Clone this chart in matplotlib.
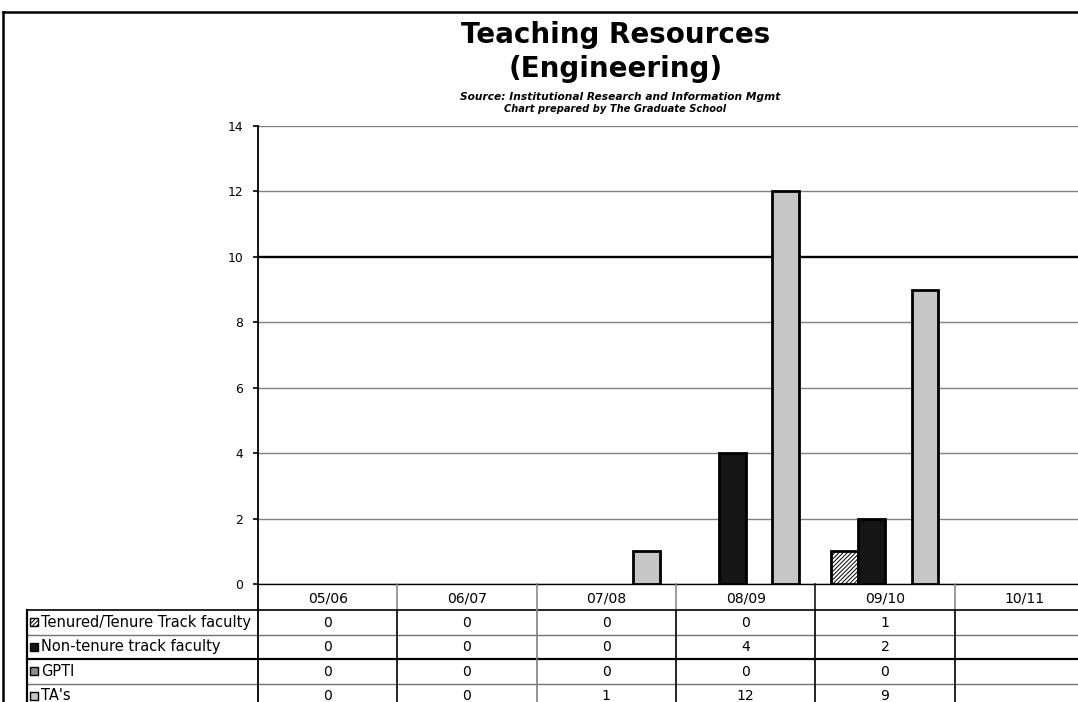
import numpy as np
import matplotlib
matplotlib.use("Agg")
import matplotlib.pyplot as plt
from matplotlib.patches import Rectangle
from matplotlib.lines import Line2D

plt.rcParams['font.family'] = ['DejaVu Sans']
plt.rcParams['hatch.linewidth'] = 0.7

# ---- data ----
years = ["05/06", "06/07", "07/08", "08/09", "09/10", "10/11"]
series_names = ["Tenured/Tenure Track faculty", "Non-tenure track faculty", "GPTI", "TA's"]
tenured = [0, 0, 0, 0, 1, None]
non_tenure = [0, 0, 0, 4, 2, None]
gpti = [0, 0, 0, 0, 0, None]
tas = [0, 0, 1, 12, 9, None]
y_ticks = [0, 2, 4, 6, 8, 10, 12, 14]

series_values = [tenured, non_tenure, gpti, tas]
styles = [
    dict(facecolor="white", hatch="////////"),
    dict(facecolor="#151515", hatch=None),
    dict(facecolor="#8c8c8c", hatch=None),
    dict(facecolor="#c6c6c6", hatch=None),
]

W, H = 1078, 702
fig = plt.figure(figsize=(W / 100, H / 100), dpi=100)

# plot area in pixel terms
left_px, top_px, bottom_px = 258, 126, 584
cat_px = 139.33
n_cat = len(years)
width_px = cat_px * n_cat

def fig_box(x0, y0, x1, y1):
    return [x0 / W, 1 - y1 / H, (x1 - x0) / W, (y1 - y0) / H]

ax = fig.add_axes(fig_box(left_px, top_px, left_px + width_px, bottom_px))
ax.set_xlim(-0.5, n_cat - 0.5)
ax.set_ylim(0, 14)
ax.set_yticks(y_ticks)
ax.set_yticklabels([str(t) for t in y_ticks], fontsize=8.9)
ax.set_xticks([])
ax.tick_params(axis='y', direction='out', length=3.6, width=1.2, pad=7, color='black')
for side in ["top", "right"]:
    ax.spines[side].set_visible(False)
ax.spines["left"].set_linewidth(1.3)
ax.spines["bottom"].set_linewidth(1.0)
ax.set_axisbelow(True)
ax.yaxis.grid(True, color="#808080", linewidth=1.0)
for t, gl in zip(ax.get_yticks(), ax.get_ygridlines()):
    if t == 10:
        gl.set_color("black")
        gl.set_linewidth(1.7)

bar_w = 0.192
x = np.arange(n_cat)
for k, (vals, st) in enumerate(zip(series_values, styles)):
    offs = (k - 1.5) * bar_w
    for i, v in enumerate(vals):
        if v is None or v == 0:
            continue
        ax.bar(x[i] + offs, v, width=bar_w, facecolor=st["facecolor"],
               hatch=st["hatch"], edgecolor="black", linewidth=2.0, zorder=3)

# ---- data table below the plot ----
row_edges = [0, 26, 50.5, 75, 99.5, 124]
tax = fig.add_axes(fig_box(left_px, bottom_px, left_px + width_px, bottom_px + row_edges[-1]))
tax.set_xlim(-0.5, n_cat - 0.5)
tax.set_ylim(row_edges[-1], 0)
tax.axis("off")

lab_left = -0.5 - (left_px - 27) / cat_px
text_left = -0.5 - (left_px - 41) / cat_px
icon_left = -0.5 - (left_px - 30) / cat_px
icon_w = 8 / cat_px
right_end = n_cat - 0.5

def hline(y, x0, x1, color, lw):
    tax.add_line(Line2D([x0, x1], [y, y], color=color, linewidth=lw, clip_on=False))

def vline(xv, y0, y1, color, lw):
    tax.add_line(Line2D([xv, xv], [y0, y1], color=color, linewidth=lw, clip_on=False))

# horizontal rules
hline(row_edges[1], lab_left, right_end, "black", 1.2)
hline(row_edges[2], lab_left, right_end, "#707070", 1.0)
hline(row_edges[3], lab_left, right_end, "black", 1.6)
hline(row_edges[4], lab_left, right_end, "#707070", 1.0)

# vertical rules
vline(lab_left, row_edges[1], row_edges[-1], "black", 1.6)
vline(-0.5, row_edges[0], row_edges[-1], "black", 1.3)
for j in range(1, n_cat):
    xb = j - 0.5
    head_col = "black" if j == 4 else "#808080"
    body_col = "#808080" if j == 2 else "black"
    vline(xb, row_edges[0], row_edges[1], head_col, 1.1)
    vline(xb, row_edges[1], row_edges[-1], body_col, 1.2)

# header labels
for i, yr in enumerate(years):
    tax.text(i, (row_edges[0] + row_edges[1]) / 2 + 1, yr, ha="center", va="center",
             fontsize=10.1)

# row labels, icons and values
for r, (name, vals, st) in enumerate(zip(series_names, series_values, styles)):
    y0, y1 = row_edges[r + 1], row_edges[r + 2]
    yc = (y0 + y1) / 2
    tax.add_patch(Rectangle((icon_left, yc - 4), icon_w, 8, facecolor=st["facecolor"],
                            hatch=st["hatch"], edgecolor="black", linewidth=1.0,
                            clip_on=False))
    tax.text(text_left, yc, name, ha="left", va="center", fontsize=10.5, clip_on=False)
    for i, v in enumerate(vals):
        if v is None:
            continue
        tax.text(i, yc + 0.5, str(v), ha="center", va="center", fontsize=10.1)

# ---- outer frame ----
fig.add_artist(Line2D([2.5 / W, 1.0], [1 - 12 / H, 1 - 12 / H], color="black",
                      linewidth=1.8, transform=fig.transFigure))
fig.add_artist(Line2D([2.5 / W, 2.5 / W], [0, 1 - 12 / H], color="black",
                      linewidth=1.8, transform=fig.transFigure))

# ---- titles ----
fig.text(616 / W, 1 - 43 / H, "Teaching Resources", ha="center", va="baseline",
         fontsize=20, fontweight="bold")
fig.text(616 / W, 1 - 77 / H, "(Engineering)", ha="center", va="baseline",
         fontsize=20, fontweight="bold")
fig.text(620 / W, 1 - 100 / H, "Source: Institutional Research and Information Mgmt",
         ha="center", va="baseline", fontsize=7.7, fontweight="bold", fontstyle="italic")
fig.text(615 / W, 1 - 112 / H, "Chart prepared by The Graduate School",
         ha="center", va="baseline", fontsize=7.1, fontweight="bold", fontstyle="italic")

fig.savefig("out.png", dpi=100)
